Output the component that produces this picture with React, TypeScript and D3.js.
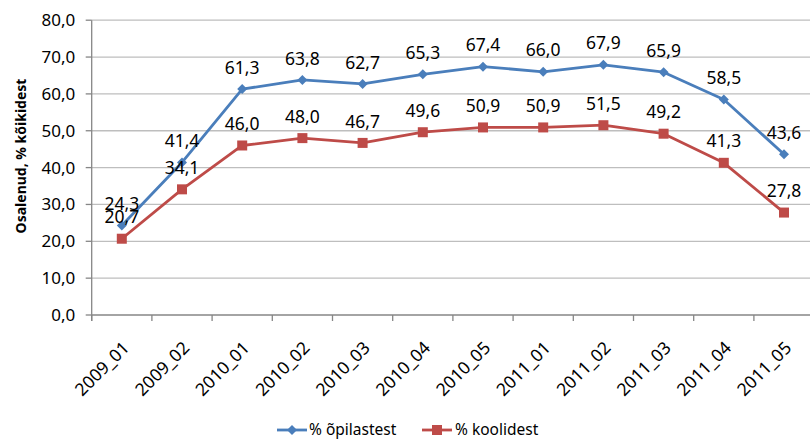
import React from "react";
import * as d3 from "d3";

const categories = ["2009_01","2009_02","2010_01","2010_02","2010_03","2010_04","2010_05","2011_01","2011_02","2011_03","2011_04","2011_05"];
const pupils = [24.3, 41.4, 61.3, 63.8, 62.7, 65.3, 67.4, 66.0, 67.9, 65.9, 58.5, 43.6];
const schools = [20.7, 34.1, 46.0, 48.0, 46.7, 49.6, 50.9, 50.9, 51.5, 49.2, 41.3, 27.8];
const yTicks = [0, 10, 20, 30, 40, 50, 60, 70, 80];
const seriesNames = ["% õpilastest", "% koolidest"];

const W = 810, H = 439;
const left = 91.7, right = 814.1, top = 20.2, bottom = 315;
const BLUE = "#4A7EBB", RED = "#BE4B48";
const FONT = "'Noto Sans', 'DejaVu Sans', sans-serif";
const fmt = (v: number) => v.toFixed(1).replace(".", ",");

export default function App() {
  const x = d3.scaleBand<string>().domain(categories).range([left, right]);
  const y = d3.scaleLinear().domain([0, 80]).range([bottom, top]);
  const cx = (c: string) => (x(c) as number) + x.bandwidth() / 2;
  const line = d3.line<number>().x((_, i) => cx(categories[i])).y((d) => y(d));

  return (
    <svg width={W} height={H} style={{ position: "absolute", left: 0, top: 0, background: "#fff" }} fontFamily={FONT}>
      {/* gridlines */}
      {yTicks.map((t) => (
        <line key={"g" + t} x1={left} x2={right} y1={y(t)} y2={y(t)} stroke={t === 0 ? "#868686" : "#BEBEBE"} strokeWidth={1.3} />
      ))}
      {/* y axis */}
      <line x1={left} x2={left} y1={top} y2={bottom + 6} stroke="#868686" strokeWidth={1.3} />
      {yTicks.map((t) => (
        <g key={"yt" + t}>
          <line x1={left - 6} x2={left} y1={y(t)} y2={y(t)} stroke="#868686" strokeWidth={1.3} />
          <text x={left - 16.5} y={y(t)} dy="0.35em" textAnchor="end" fontSize={17} fill="#000">{fmt(t)}</text>
        </g>
      ))}
      {/* x ticks */}
      {categories.map((c) => (
        <line key={"xt" + c} x1={x(c) as number} x2={x(c) as number} y1={bottom} y2={bottom + 6} stroke="#868686" strokeWidth={1.3} />
      ))}
      {categories.map((c) => (
        <text key={"xl" + c} transform={`translate(${cx(c) + 8.5},${bottom + 34}) rotate(-45)`} textAnchor="end" fontSize={17.5} fill="#000">{c}</text>
      ))}
      {/* y axis title */}
      <text transform={`translate(26,156) rotate(-90)`} textAnchor="middle" fontSize={14} fontWeight="bold" fill="#000">Osalenud, % kõikidest</text>
      {/* lines */}
      <path d={line(pupils) as string} fill="none" stroke={BLUE} strokeWidth={2.8} strokeLinejoin="round" />
      <path d={line(schools) as string} fill="none" stroke={RED} strokeWidth={2.8} strokeLinejoin="round" />
      {pupils.map((v, i) => {
        const px = cx(categories[i]), py = y(v);
        return <path key={"pm" + i} d={`M${px},${py - 5}L${px + 5},${py}L${px},${py + 5}L${px - 5},${py}Z`} fill={BLUE} />;
      })}
      {schools.map((v, i) => {
        const px = cx(categories[i]), py = y(v);
        return <rect key={"sm" + i} x={px - 5} y={py - 5} width={10} height={10} fill={RED} />;
      })}
      {pupils.map((v, i) => (
        <text key={"pl" + i} x={cx(categories[i])} y={y(v) - 21.5} dy="0.35em" textAnchor="middle" fontSize={17.5} fill="#000">{fmt(v)}</text>
      ))}
      {schools.map((v, i) => (
        <text key={"sl" + i} x={cx(categories[i])} y={y(v) - 21.5} dy="0.35em" textAnchor="middle" fontSize={17.5} fill="#000">{fmt(v)}</text>
      ))}
      {/* legend */}
      <g>
        <line x1={277} x2={307} y1={430} y2={430} stroke={BLUE} strokeWidth={2.8} />
        <path d={`M292,425L297,430L292,435L287,430Z`} fill={BLUE} />
        <text x={309} y={429.5} dy="0.35em" fontSize={15.5} fill="#000">{seriesNames[0]}</text>
        <line x1={422} x2={452} y1={430} y2={430} stroke={RED} strokeWidth={2.8} />
        <rect x={432} y={425} width={10} height={10} fill={RED} />
        <text x={455} y={429.5} dy="0.35em" fontSize={15.5} fill="#000">{seriesNames[1]}</text>
      </g>
    </svg>
  );
}
